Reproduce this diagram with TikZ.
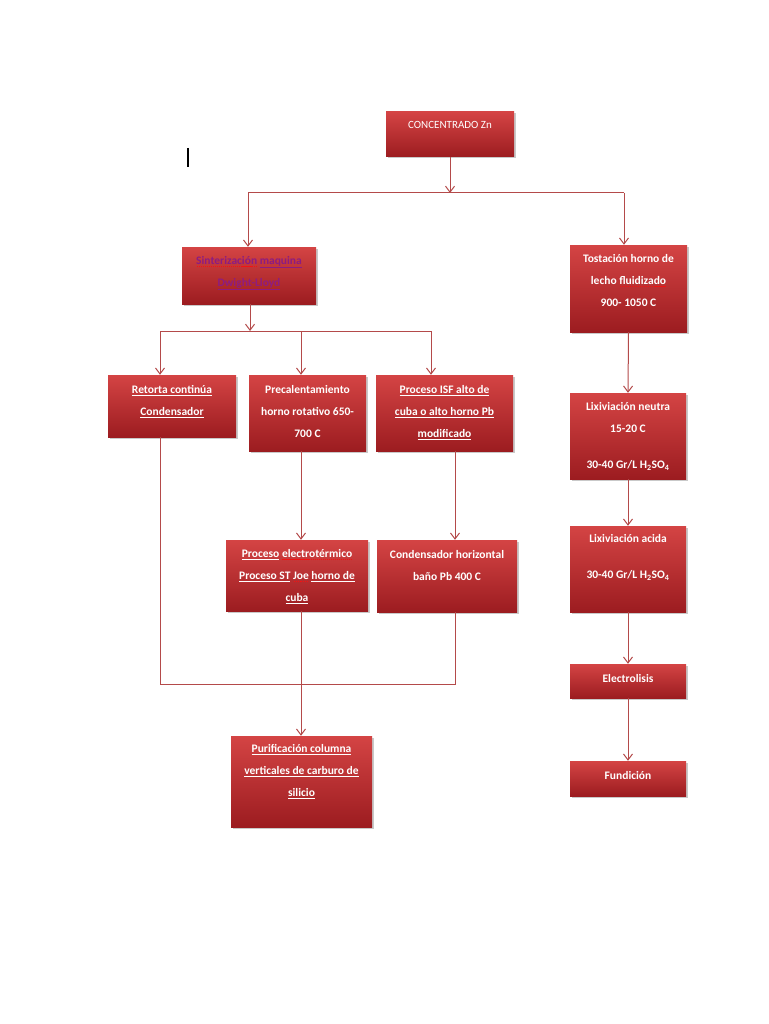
\documentclass[tikz,border=0pt]{standalone}
\usepackage{fontspec}
\setmainfont{Carlito}
\usetikzlibrary{arrows.meta,shadows}
\definecolor{boxtop}{RGB}{212,68,68}
\definecolor{boxbot}{RGB}{156,28,32}
\definecolor{lnk}{RGB}{180,74,74}
\definecolor{purp}{RGB}{140,28,130}
\definecolor{spellred}{RGB}{240,20,20}
\newsavebox\spbox
\newcommand\myul[1]{\underline{#1}}
\newcommand\spellmark[1]{\sbox\spbox{#1}\leavevmode\rlap{\textcolor{spellred}{\hbox to\wd\spbox{\xleaders\hbox to 2pt{\hss\rule[-3pt]{1.2pt}{1.2pt}\hss}\hfill}}}\usebox\spbox}
\tikzset{
  box/.style={draw=none, top color=boxtop, bottom color=boxbot, shading angle=0,
    drop shadow={opacity=0.35, shadow xshift=1.5pt, shadow yshift=-1.5pt, fill=black!60},
    inner sep=0pt},
  txt/.style={text=white, font=\fontsize{11.5}{22}\selectfont\bfseries, align=center, inner sep=0pt, anchor=north},
  conn/.style={draw=lnk, line width=1pt},
  arr/.style={conn, -{Straight Barb[length=6pt,width=9pt]}}
}
\begin{document}
\begin{tikzpicture}[x=1pt,y=-1pt]
\useasboundingbox[fill=white] (0,0) rectangle (768,1024);
% cursor mark
\draw[line width=1.6pt] (188,148) -- (188,167);
% boxes
\node[box, minimum width=128pt, minimum height=45pt] (conc) at (450,134.5) {};
\node[box, minimum width=134pt, minimum height=57pt] (sint) at (249,275.5) {};
\node[box, minimum width=117pt, minimum height=87pt] (tost) at (628.5,288.5) {};
\node[box, minimum width=128pt, minimum height=62pt] (ret) at (172,406) {};
\node[box, minimum width=117pt, minimum height=76pt] (prec) at (307.5,413) {};
\node[box, minimum width=137pt, minimum height=76pt] (isf) at (444.5,413) {};
\node[box, minimum width=142pt, minimum height=71pt] (elec) at (297,575.5) {};
\node[box, minimum width=140pt, minimum height=72pt] (condh) at (447,576) {};
\node[box, minimum width=141pt, minimum height=91pt] (pur) at (301.5,781.5) {};
\node[box, minimum width=116pt, minimum height=86pt] (lixn) at (628,436) {};
\node[box, minimum width=116pt, minimum height=86pt] (lixa) at (628,569) {};
\node[box, minimum width=116pt, minimum height=34pt] (elect) at (628,681) {};
\node[box, minimum width=116pt, minimum height=35pt] (fund) at (628,778.5) {};
% texts
\node[txt, font=\fontsize{11}{22}\selectfont] (conc-t) at (450,121) {CONCENTRADO Zn};
\node[txt, text=purp] (sint-t) at (249,256) {\spellmark{Sinterización} \myul{maquina}\\ \myul{Dwight-Lloyd}};
\node[txt] (tost-t) at (628.5,254) {Tostación horno de\\ lecho \spellmark{fluidizado}\\ 900- 1050 C};
\node[txt] (ret-t) at (172,385) {\myul{Retorta continúa}\\ \myul{Condensador}};
\node[txt] (prec-t) at (307.5,385) {Precalentamiento\\ horno rotativo 650-\\ 700 C};
\node[txt] (isf-t) at (444.5,385) {\myul{Proceso ISF alto de}\\ \myul{cuba o alto horno Pb}\\ \myul{modificado}};
\node[txt] (elec-t) at (297,549) {\myul{Proceso} \spellmark{electrotérmico}\\ \myul{Proceso ST} \spellmark{Joe} \myul{horno de}\\ \myul{cuba}};
\node[txt] (condh-t) at (447,550) {Condensador horizontal\\ baño Pb 400 C};
\node[txt] (pur-t) at (301.5,744) {\myul{Purificación columna}\\ \myul{verticales de carburo de}\\ \myul{silicio}};
\node[txt] (lixn-t) at (628,402) {Lixiviación neutra\\ 15-20 C\\[14pt] 30-40 Gr/L H\textsubscript{2}SO\textsubscript{4}};
\node[txt] (lixa-t) at (628,534) {Lixiviación acida\\[14pt] 30-40 Gr/L H\textsubscript{2}SO\textsubscript{4}};
\node[txt] (elect-t) at (628,674) {Electrolisis};
\node[txt] (fund-t) at (628,771) {Fundición};
% connectors
\coordinate (j1) at (450,193);
\coordinate (jL) at (248,193);
\coordinate (jR) at (624,193);
\draw[arr] (conc.south) -- (j1);
\draw[conn] (jL) -- (jR);
\draw[arr] (jL) -- (jL |- sint.north);
\draw[arr] (jR) -- (jR |- tost.north);
\coordinate (k1) at (250,331);
\coordinate (kL) at (160,331);
\coordinate (kM) at (301,331);
\coordinate (kR) at (431,331);
\draw[arr] (k1 |- sint.south) -- (k1);
\draw[conn] (kL) -- (kR);
\draw[arr] (kL) -- (kL |- ret.north);
\draw[arr] (kM) -- (kM |- prec.north);
\draw[arr] (kR) -- (kR |- isf.north);
\coordinate (pX) at (301,0);
\coordinate (iX) at (455,0);
\draw[arr] (pX |- prec.south) -- (pX |- elec.north);
\draw[arr] (iX |- isf.south) -- (iX |- condh.north);
\coordinate (m1) at (160,684);
\coordinate (m2) at (455,684);
\draw[conn] (kL |- ret.south) -- (m1) -- (m2) -- (m2 |- condh.south);
\draw[arr] (pX |- elec.south) -- (pX |- pur.north);
\draw[arr] (tost.south) -- (lixn.north);
\draw[arr] (lixn.south) -- (lixa.north);
\draw[arr] (lixa.south) -- (elect.north);
\draw[arr] (elect.south) -- (fund.north);
\end{tikzpicture}
\end{document}
